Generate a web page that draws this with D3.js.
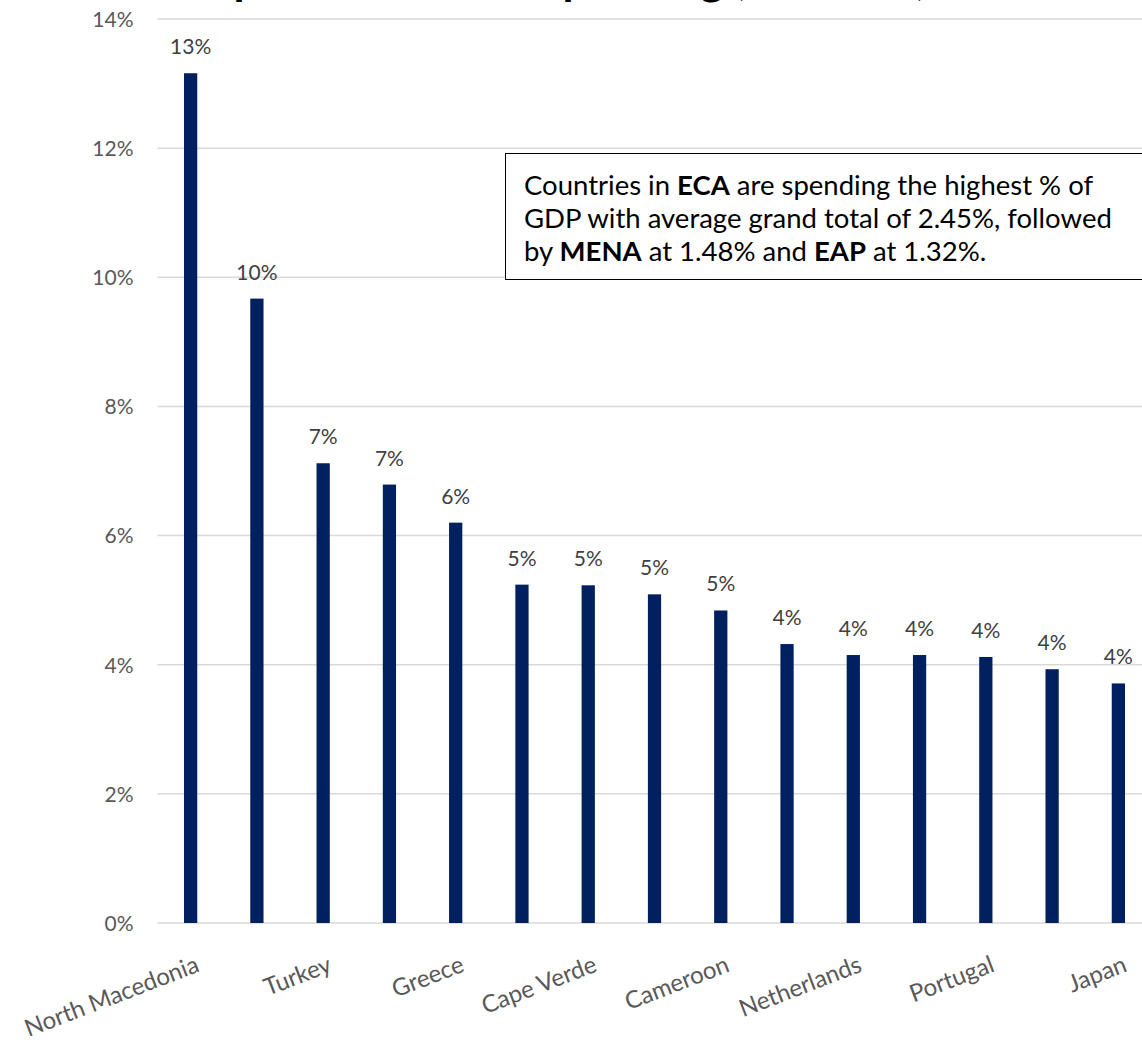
<!DOCTYPE html>
<html>
<head>
<meta charset="utf-8">
<script src="https://cdn.jsdelivr.net/npm/d3@7"></script>
<style>
  html, body { margin: 0; padding: 0; background: #fff; }
  svg { display: block; font-family: Lato, "Noto Sans", sans-serif; }
</style>
</head>
<body>
<svg id="chart" width="1142" height="1043"></svg>
<script>
// ---- data ----
const categories = ["North Macedonia", "", "Turkey", "", "Greece", "", "Cape Verde", "", "Cameroon", "", "Netherlands", "", "Portugal", "", "Japan"];
const values = [0.1316, 0.0967, 0.0712, 0.0679, 0.0620, 0.0524, 0.0523, 0.0509, 0.0484, 0.0432, 0.0415, 0.0415, 0.0412, 0.0393, 0.0371];
const yTicks = [0, 0.02, 0.04, 0.06, 0.08, 0.10, 0.12, 0.14];
const titleMain = "Top 15 Countries Spending";
const titleSub = " (% of GDP)";
const noteLines = [
  [["Countries in ", false], ["ECA", true], [" are spending the highest % of", false]],
  [["GDP with average grand total of 2.45%, followed", false]],
  [["by ", false], ["MENA", true], [" at 1.48% and ", false], ["EAP", true], [" at 1.32%.", false]]
];

// ---- layout ----
const svg = d3.select("#chart");
const plotLeft = 157.5, plotRight = 1151.5, plotTop = 19, plotBottom = 923;

const x = d3.scaleBand().domain(d3.range(values.length)).range([plotLeft, plotRight]).paddingInner(0.8).paddingOuter(0.4);
const y = d3.scaleLinear().domain([0, 0.14]).range([plotBottom, plotTop]);

// title (cut off at top, only descenders visible)
const title = svg.append("text").attr("x", 186).attr("y", -6).attr("fill", "#000");
title.append("tspan").attr("font-size", 45).attr("font-weight", 700).text(titleMain);
title.append("tspan").attr("font-size", 40).attr("dy", 1).text(titleSub);

// gridlines
svg.append("g").selectAll("line").data(yTicks).join("line")
  .attr("x1", plotLeft).attr("x2", 1142)
  .attr("y1", d => y(d)).attr("y2", d => y(d))
  .attr("stroke", "#d9d9d9").attr("stroke-width", 1.5);

// y axis
const yAxis = svg.append("g").attr("transform", `translate(${plotLeft - 24},0)`)
  .call(d3.axisLeft(y).tickValues(yTicks).tickFormat(d3.format(".0%")).tickSize(0).tickPadding(0));
yAxis.select(".domain").remove();
yAxis.selectAll("text").attr("font-size", 21).attr("fill", "#595959")
  .attr("font-family", "Lato, 'Noto Sans', sans-serif").attr("dy", "0.35em");

// bars
svg.append("g").selectAll("rect").data(values).join("rect")
  .attr("x", (d, i) => x(i)).attr("width", x.bandwidth())
  .attr("y", d => y(d)).attr("height", d => plotBottom - y(d))
  .attr("fill", "#002060");

// data labels
svg.append("g").selectAll("text").data(values).join("text")
  .attr("x", (d, i) => x(i) + x.bandwidth() / 2)
  .attr("y", d => y(d) - 19)
  .attr("text-anchor", "middle")
  .attr("font-size", 21).attr("fill", "#404040")
  .text(d => d3.format(".0%")(d));

// x axis labels
const xAxis = svg.append("g").attr("transform", `translate(0,${plotBottom})`)
  .call(d3.axisBottom(x).tickFormat(i => categories[i]).tickSize(0).tickPadding(0));
xAxis.select(".domain").remove();
xAxis.selectAll("text")
  .attr("font-size", 24).attr("fill", "#595959")
  .attr("font-family", "Lato, 'Noto Sans', sans-serif")
  .attr("text-anchor", "end")
  .attr("dy", null).attr("y", 0)
  .attr("transform", "translate(10,48) rotate(-21)");

// annotation box
svg.append("rect").attr("x", 505.5).attr("y", 153.5).attr("width", 700).attr("height", 126)
  .attr("fill", "#fff").attr("stroke", "#000").attr("stroke-width", 1);
const note = svg.append("g");
noteLines.forEach((line, li) => {
  const t = note.append("text").attr("x", 524).attr("y", 195 + li * 33)
    .attr("font-size", 27.5).attr("fill", "#000");
  line.forEach(([s, b]) => t.append("tspan").attr("font-weight", b ? 700 : 400).text(s));
});
</script>
</body>
</html>
